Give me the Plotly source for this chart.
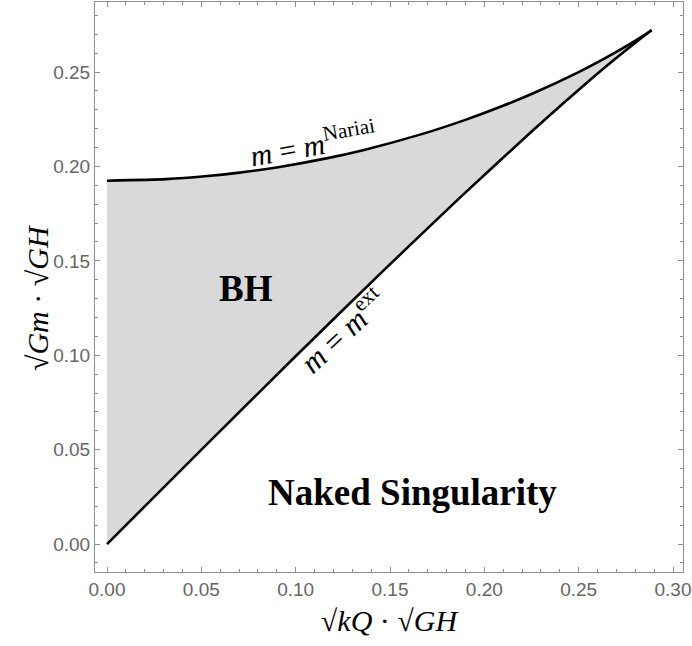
import plotly.graph_objects as go

# Extremal branch (m = m^ext): charge and mass
ext_q = [0.0, 0.04981, 0.09849, 0.14485, 0.18762, 0.22535, 0.25632, 0.26862,
         0.27836, 0.28609, 0.28757, 0.28844, 0.28868]
ext_m = [0.0, 0.04975, 0.09800, 0.14325, 0.18400, 0.21875, 0.24600, 0.25634,
         0.26425, 0.27026, 0.27136, 0.27200, 0.27217]

# Nariai branch (m = m^Nariai)
nar_q = [0.0, 0.0313, 0.05183, 0.0702, 0.0907, 0.11624, 0.13625, 0.16728,
         0.19107, 0.21020, 0.22595, 0.25000, 0.26312, 0.27296, 0.28009,
         0.28488, 0.28766, 0.28868]
nar_m = [0.19245, 0.19330, 0.19478, 0.19673, 0.19961, 0.20428, 0.20877,
         0.21725, 0.22507, 0.23225, 0.23878, 0.25000, 0.25683, 0.26235,
         0.26661, 0.26963, 0.27147, 0.27217]

tick_vals = [0.0, 0.05, 0.10, 0.15, 0.20, 0.25, 0.30]
tick_text = ["0.00", "0.05", "0.10", "0.15", "0.20", "0.25", "0.30"]

serif = "Liberation Serif"
gray = "#8f8f8f"

fig = go.Figure()

# shaded BH region
fig.add_trace(go.Scatter(
    x=ext_q + nar_q[::-1], y=ext_m + nar_m[::-1],
    fill="toself", fillcolor="#d9d9d9", line=dict(width=0, shape="spline", smoothing=0.6),
    mode="lines", hoverinfo="skip", showlegend=False))

fig.add_trace(go.Scatter(x=ext_q, y=ext_m, mode="lines",
                         line=dict(color="black", width=2.6, shape="spline", smoothing=0.6),
                         showlegend=False))
fig.add_trace(go.Scatter(x=nar_q, y=nar_m, mode="lines",
                         line=dict(color="black", width=2.6, shape="spline", smoothing=0.6),
                         showlegend=False))

axis_common = dict(
    showline=True, linecolor=gray, linewidth=1, mirror="allticks",
    ticks="inside", ticklen=5, tickcolor=gray, tickwidth=1,
    showgrid=False, zeroline=False, automargin=False,
    tickvals=tick_vals, ticktext=tick_text,
    tickfont=dict(family="Liberation Sans", size=19, color="#666666"),
    minor=dict(ticks="inside", ticklen=3, tickcolor=gray, dtick=0.01, tick0=0, showgrid=False),
)

fig.update_layout(
    width=692, height=646,
    margin=dict(l=95, r=9, t=2, b=74),
    paper_bgcolor="white", plot_bgcolor="white",
    xaxis=dict(range=[-0.00636, 0.3053],
               title=dict(text="√<i>kQ</i> · √<i>GH</i>",
                          font=dict(family=serif, size=30, color="black"), standoff=11),
               **axis_common),
    yaxis=dict(range=[-0.0148, 0.2871], **axis_common),
)

# y-axis title placed as a rotated annotation
fig.add_annotation(xref="paper", yref="paper", x=-0.099, y=0.482, xanchor="center",
                   yanchor="middle", showarrow=False, textangle=-90,
                   text="√<i>Gm</i> · √<i>GH</i>",
                   font=dict(family=serif, size=30, color="black"))

annots = [
    dict(x=0.1092, y=0.2124, text="<i>m</i> = <i>m</i><sup>Nariai</sup>", textangle=-10,
         font=dict(family=serif, size=30, color="black")),
    dict(x=0.1246, y=0.1133, text="<i>m</i> = <i>m</i><sup>ext</sup>", textangle=-43,
         font=dict(family=serif, size=31, color="black")),
    dict(x=0.0737, y=0.1356, text="<b>BH</b>",
         font=dict(family=serif, size=37, color="black")),
    dict(x=0.1617, y=0.0275, text="<b>Naked Singularity</b>",
         font=dict(family=serif, size=37, color="black")),
]
for a in annots:
    fig.add_annotation(xref="x", yref="y", showarrow=False, **a)

fig.write_html("out.html", post_script="document.body.style.margin='0px';",
               config={"displayModeBar": False})
